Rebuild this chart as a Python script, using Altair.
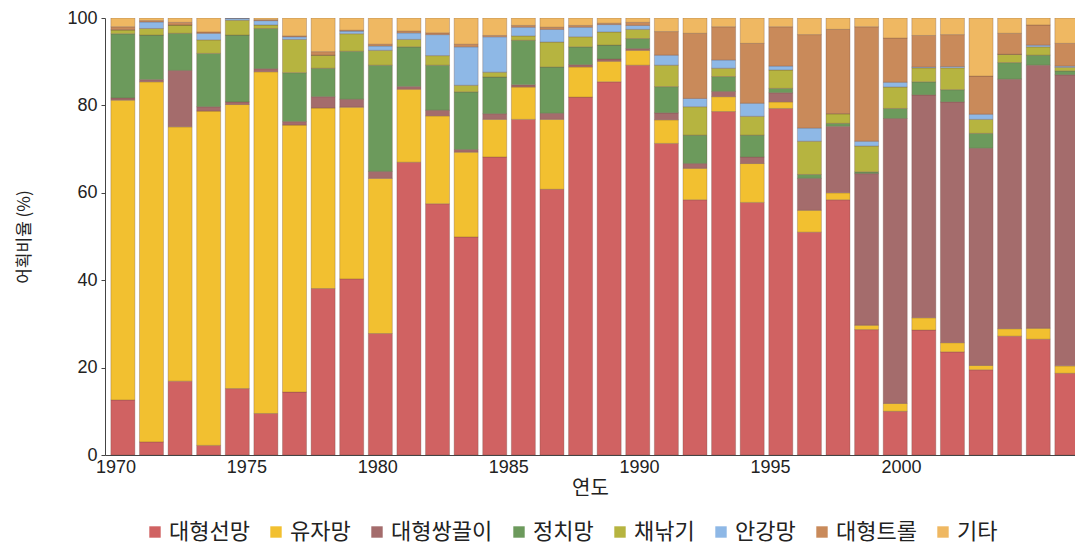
import altair as alt
import pandas as pd

years = list(range(1970, 2004))

series_names = ["대형선망", "유자망", "대형쌍끌이", "정치망", "채낚기", "안강망", "대형트롤", "기타"]
series_colors = ["#d06262", "#f2c030", "#a46c6c", "#6c9a5c", "#b6b440", "#8eb8e6", "#c98a5a", "#efb862"]

large_purse_seine = [12.6, 3.0, 16.9, 2.2, 15.2, 9.5, 14.4, 38.1, 40.3, 27.8,
                     67.0, 57.5, 49.9, 68.2, 76.8, 60.8, 81.9, 85.4, 89.2, 71.3,
                     58.4, 78.6, 57.8, 79.3, 51.0, 58.4, 28.7, 10.0, 28.6, 23.6,
                     19.5, 27.2, 26.5, 18.7]
drift_gill_net = [68.6, 82.4, 58.2, 76.5, 65.0, 78.2, 61.1, 41.3, 39.3, 35.5,
                  16.7, 20.1, 19.4, 8.6, 7.4, 16.0, 6.9, 4.7, 3.4, 5.4,
                  7.2, 3.4, 8.9, 1.5, 5.0, 1.6, 1.0, 1.8, 2.8, 2.1,
                  1.0, 1.7, 2.5, 1.7]
large_pair_trawl = [0.5, 0.5, 12.9, 1.0, 0.6, 0.7, 0.8, 2.6, 1.8, 1.6,
                    0.6, 1.3, 0.6, 1.3, 0.5, 1.4, 0.5, 0.5, 0.4, 1.6,
                    1.1, 1.2, 1.5, 2.1, 7.3, 15.2, 34.7, 65.2, 51.0, 55.1,
                    49.7, 57.1, 60.2, 66.6]
set_net = [14.7, 10.2, 8.5, 12.2, 15.3, 9.2, 11.2, 6.5, 11.0, 24.3,
           9.1, 10.3, 13.2, 8.4, 10.2, 10.6, 4.1, 3.2, 2.3, 6.0,
           6.5, 3.4, 5.0, 1.0, 0.9, 0.7, 0.4, 2.3, 3.0, 2.8,
           3.4, 3.8, 2.3, 0.9]
jigging = [0.9, 1.5, 1.9, 3.1, 3.4, 0.8, 7.6, 3.0, 4.0, 3.4,
           1.7, 2.2, 1.5, 1.1, 1.0, 5.7, 2.3, 3.0, 2.1, 4.9,
           6.5, 1.9, 4.3, 4.2, 7.6, 2.2, 5.9, 4.9, 3.2, 5.0,
           3.2, 1.9, 1.9, 0.8]
stow_net = [0.0, 1.5, 0.0, 1.5, 0.5, 1.0, 0.6, 0.0, 0.6, 1.0,
            1.5, 4.8, 8.8, 8.1, 2.0, 2.9, 2.2, 1.7, 0.9, 2.3,
            1.9, 1.9, 3.0, 0.9, 3.0, 0.0, 1.1, 1.1, 0.2, 0.3,
            1.2, 0.0, 0.4, 0.3]
large_trawl = [0.7, 0.3, 0.6, 0.3, 0.0, 0.2, 0.2, 0.8, 0.2, 0.4,
               0.4, 0.4, 0.6, 0.3, 0.4, 0.5, 0.4, 0.3, 0.7, 5.4,
               14.9, 7.6, 13.7, 9.0, 21.4, 19.3, 26.2, 10.1, 7.2, 7.3,
               8.7, 4.8, 4.6, 5.2]
others = [2.0, 0.6, 1.0, 3.2, 0.0, 0.4, 4.1, 7.7, 2.8, 6.0,
          3.0, 3.4, 6.0, 4.0, 1.7, 2.1, 1.7, 1.2, 1.0, 3.1,
          3.5, 2.0, 5.8, 2.0, 3.8, 2.6, 2.0, 4.6, 4.0, 3.8,
          13.3, 3.5, 1.6, 5.8]

series_values = [large_purse_seine, drift_gill_net, large_pair_trawl, set_net,
                 jigging, stow_net, large_trawl, others]

label_years = [1970, 1975, 1980, 1985, 1990, 1995, 2000]

rows = []
for idx, (name, vals) in enumerate(zip(series_names, series_values)):
    for yr, v in zip(years, vals):
        rows.append({"연도": yr, "업종": name, "비율": v, "순서": idx})
df = pd.DataFrame(rows)

KFONT = "Noto Sans CJK KR"
NFONT = "Liberation Sans"

bars = alt.Chart(df).mark_bar(size=24, clip=True, stroke="#6b4a40",
                              strokeWidth=0.5, strokeOpacity=0.6).encode(
    x=alt.X("연도:Q",
            scale=alt.Scale(domain=[1969.55, 2003.11], nice=False, zero=False),
            axis=None),
    y=alt.Y("비율:Q", stack="zero",
            scale=alt.Scale(domain=[0, 100], nice=False),
            axis=alt.Axis(values=[0, 20, 40, 60, 80, 100], title="어획비율 (%)",
                          grid=False, labelFont=NFONT, labelFontSize=18,
                          labelColor="#222", titleFont=KFONT, titleFontSize=17,
                          titleFontWeight="normal", titleColor="#222",
                          titlePadding=33, domainColor="#444", tickColor="#444",
                          tickSize=4, labelPadding=4)),
    color=alt.Color("업종:N",
                    scale=alt.Scale(domain=series_names, range=series_colors),
                    sort=series_names,
                    legend=alt.Legend(orient="none", legendX=39, legendY=503,
                                      direction="horizontal", title=None,
                                      symbolType="square", symbolSize=130,
                                      symbolStrokeWidth=0,
                                      labelFont=KFONT, labelFontSize=22,
                                      labelColor="#222", columnPadding=15,
                                      labelOffset=3, labelLimit=300)),
    order=alt.Order("순서:Q", sort="ascending"),
)

axis_layer = alt.Chart(pd.DataFrame({"연도": label_years})).mark_tick(opacity=0).encode(
    x=alt.X("연도:Q",
            scale=alt.Scale(domain=[1969.60, 2006.65], nice=False, zero=False),
            axis=alt.Axis(values=label_years, format="d", title="연도",
                          orient="bottom", grid=False, ticks=False,
                          labelFont=NFONT, labelFontSize=18, labelColor="#222",
                          titleFont=KFONT, titleFontSize=20,
                          titleFontWeight="normal", titleColor="#222",
                          titlePadding=2, domainColor="#444", labelPadding=3)),
)

chart = alt.layer(bars, axis_layer).resolve_scale(x="independent").properties(
    width=970, height=437,
    padding={"left": 7, "top": 1, "right": 0, "bottom": 5},
).configure_view(stroke=None)

chart.save("out.html", embed_options={"renderer": "svg", "actions": False})
